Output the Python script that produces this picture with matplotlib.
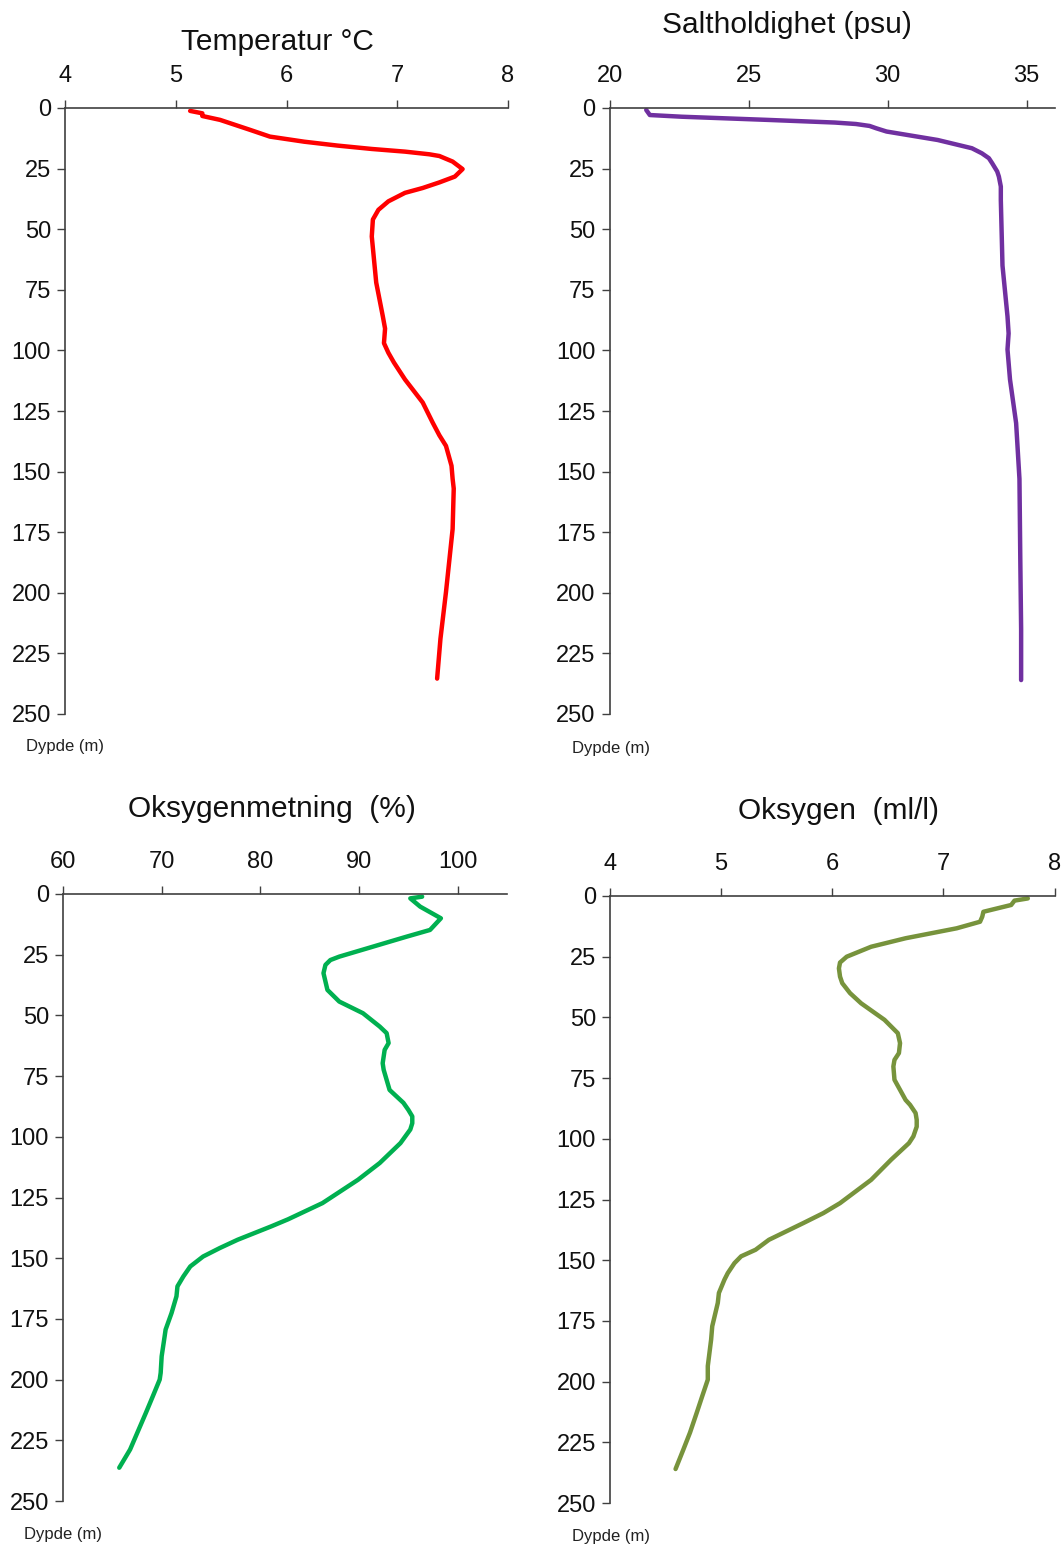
import numpy as np
import matplotlib
matplotlib.use('Agg')
import matplotlib.pyplot as plt

plt.rcParams['font.family'] = ['Liberation Sans', 'DejaVu Sans']

# Temperatur (dybde m, grader C)
temp_dybde = [1.2, 2.2, 3.3, 4.9, 9, 10.4, 11.8, 13.9, 15.5, 16.9, 18, 19.1, 19.8, 22.1, 25.2, 28.3,
              30.7, 33, 35, 38.5, 42, 46, 53, 72, 86, 91, 97, 101, 105, 112, 121.5, 129.8, 135, 139.4,
              147.6, 153, 157, 173.7, 199.7, 219, 235.4]
temp = [5.13, 5.24, 5.24, 5.40, 5.67, 5.76, 5.85, 6.16, 6.46, 6.77, 7.07, 7.29, 7.38, 7.50, 7.59, 7.52,
        7.38, 7.23, 7.07, 6.92, 6.83, 6.78, 6.77, 6.81, 6.87, 6.89, 6.88, 6.92, 6.97, 7.07, 7.23, 7.32, 7.38, 7.44,
        7.49, 7.50, 7.51, 7.50, 7.44, 7.39, 7.36]

# Saltholdighet (psu)
salt_dybde = [0.8, 2.9, 3.6, 4.9, 6.0, 6.6, 7.4, 8.4, 9.7, 13.2, 16.6, 18.7, 20.7, 22.8, 26.2, 28.3,
              32.4, 38, 65, 86, 93, 99.6, 112, 130, 153, 186, 215, 236]
salt = [21.32, 21.45, 22.6, 25.67, 28.1, 28.86, 29.35, 29.6, 29.96, 31.8, 33.03, 33.39, 33.64, 33.76,
        33.94, 34.0, 34.07, 34.07, 34.13, 34.31, 34.35, 34.31, 34.40, 34.62, 34.74, 34.77, 34.80, 34.80]

# Oksygenmetning (%)
oksm_dybde = [1.1, 1.8, 5.2, 10, 14.8, 17.6, 21.7, 25.8, 27.2, 29.2, 32.6, 39.5, 44.3, 49.1, 54.6, 57.3,
              61.4, 64.2, 69.7, 72.4, 80.7, 86, 88.9, 91.6, 94.4, 97, 102.6, 110.8, 117.7, 127.3, 134,
              136.9, 142.4, 145.8, 149.3, 153.4, 157.5, 161.6, 165.7, 172.6, 179.4, 182.2, 190.4, 197.2,
              200, 206.9, 213.7, 228.8, 236.3]
oksm = [96.4, 95.2, 96.2, 98.3, 97.2, 94.8, 91.4, 88.0, 87.1, 86.6, 86.4, 86.8, 88.0, 90.4, 92.1, 92.8,
        93.0, 92.6, 92.4, 92.5, 93.1, 94.5, 95.0, 95.4, 95.4, 95.2, 94.2, 92.1, 89.9, 86.3, 82.8,
        81.1, 77.7, 75.9, 74.2, 72.9, 72.2, 71.6, 71.5, 71.0, 70.4, 70.3, 70.0, 69.9,
        69.8, 69.1, 68.4, 66.8, 65.7]

# Oksygen (ml/l)
oks_dybde = [1, 1.9, 3.7, 6.5, 8.5, 10.6, 13.3, 17.4, 20.9, 25.0, 27.4, 29.8, 33.2, 35.9, 40.0, 44.2,
             51, 56.5, 60.6, 64.7, 67.5, 70.2, 75.7, 84, 86, 89.4, 92.2, 95, 99, 101.8, 108.6, 116.9,
             126.5, 130.6, 134.7, 141.6, 145.7, 148.4, 151.2, 155.3, 158, 163.5, 167.6, 177.2, 182.7,
             193.6, 199.2, 206, 212.9, 221, 228, 236]
oks = [7.76, 7.64, 7.61, 7.36, 7.35, 7.33, 7.12, 6.66, 6.35, 6.13, 6.07, 6.06, 6.07, 6.09, 6.16, 6.26,
       6.47, 6.59, 6.61, 6.60, 6.56, 6.55, 6.56, 6.66, 6.70, 6.75, 6.76, 6.76, 6.73, 6.69, 6.53, 6.35,
       6.07, 5.92, 5.74, 5.43, 5.31, 5.18, 5.12, 5.06, 5.03, 4.98, 4.97, 4.92, 4.91,
       4.88, 4.88, 4.83, 4.78, 4.72, 4.66, 4.59]

W, H = 1062, 1546
fig = plt.figure(figsize=(W / 100, H / 100), dpi=100)

def px_axes(x0, x1, y0, y1):
    return fig.add_axes([x0 / W, 1 - y1 / H, (x1 - x0) / W, (y1 - y0) / H])

paneler = [
    # x0, x1, ytopp, ybunn, data, farge, xlim, xticks, tittel, tittelpos, dypdepos
    (65, 508, 108, 714, temp, temp_dybde, '#ff0000', (4, 8), [4, 5, 6, 7, 8],
     'Temperatur °C', (277, 42), (26, 747)),
    (609.5, 1054.5, 108, 714, salt, salt_dybde, '#7030a0', (20, 36), [20, 25, 30, 35],
     'Saltholdighet (psu)', (787, 25), (572, 748)),
    (63, 507, 894, 1501, oksm, oksm_dybde, '#00b050', (60, 105), [60, 70, 80, 90, 100],
     'Oksygenmetning  (%)', (272, 809), (24, 1535)),
    (610, 1054.5, 896, 1503, oks, oks_dybde, '#77933c', (4, 8), [4, 5, 6, 7, 8],
     'Oksygen  (ml/l)', (839, 811), (572, 1537)),
]

for x0, x1, y0, y1, verdi, dybde, farge, xlim, xt, tittel, tpos, dpos in paneler:
    ax = px_axes(x0, x1, y0, y1)
    ax.plot(verdi, dybde, color=farge, lw=3.2, solid_joinstyle='round', solid_capstyle='round')
    ax.set_xlim(*xlim)
    ax.set_ylim(250, 0)
    ax.set_xticks(xt)
    ax.set_yticks(np.arange(0, 251, 25))
    ax.xaxis.tick_top()
    for s in ['right', 'bottom']:
        ax.spines[s].set_visible(False)
    for s in ['left', 'top']:
        ax.spines[s].set_color('#404040')
        ax.spines[s].set_linewidth(1.2)
    ax.tick_params(axis='both', direction='out', length=6, width=1, color='#404040',
                   labelsize=17, labelcolor='#111111')
    ax.tick_params(axis='x', pad=9)
    ax.tick_params(axis='y', pad=4)
    fig.text(tpos[0] / W, 1 - tpos[1] / H, tittel, fontsize=21.5, ha='center', va='center', color='#111111')
    fig.text(dpos[0] / W, 1 - dpos[1] / H, 'Dypde (m)', fontsize=12, ha='left', va='center', color='#222222')

fig.savefig('out.png', dpi=100)
